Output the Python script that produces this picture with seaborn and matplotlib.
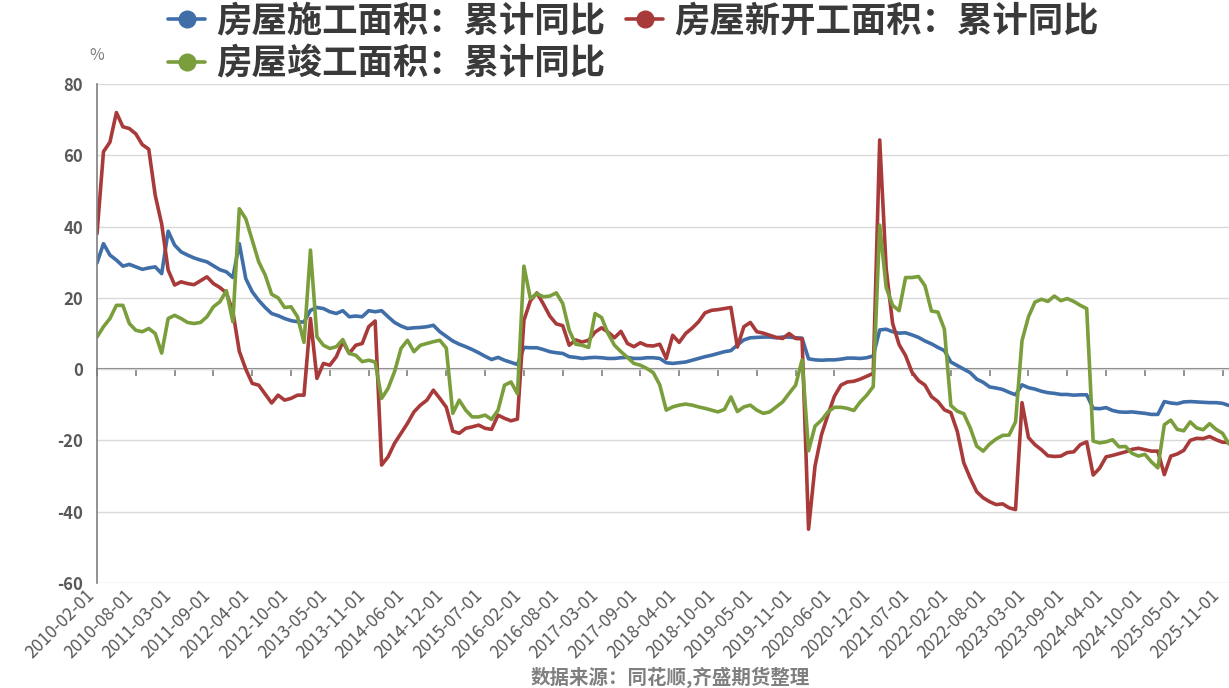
import pandas as pd
import matplotlib.pyplot as plt
import matplotlib.transforms as mtransforms
import seaborn as sns
from matplotlib.lines import Line2D

# 月份（国家统计局1-2月合并，无1月）
years = list(range(2010, 2026))
months = list(range(2, 13))
dates = [f'{y}-{m:02d}-01' for y in years for m in months]

# 房屋施工面积：累计同比
shigong = [
    29.8, 35.2, 32.0, 30.6, 28.9, 29.4, 28.7, 28.0, 28.4, 28.7, 26.8,
    38.7, 34.8, 32.9, 32.0, 31.2, 30.6, 30.1, 29.0, 27.9, 27.3, 25.7,
    35.2, 25.4, 21.7, 19.3, 17.3, 15.6, 15.0, 14.2, 13.6, 13.3, 13.2,
    16.5, 17.3, 17.0, 16.1, 15.6, 16.4, 14.7, 14.9, 14.7, 16.4, 16.1,
    16.4, 14.7, 13.1, 12.1, 11.4, 11.6, 11.7, 11.9, 12.3, 10.5, 9.2,
    7.9, 7.0, 6.3, 5.5, 4.6, 3.6, 2.7, 3.3, 2.5, 1.9, 1.3,
    6.1, 6.0, 6.0, 5.5, 4.9, 4.6, 4.4, 3.5, 3.3, 3.0, 3.2,
    3.3, 3.2, 3.0, 3.0, 3.2, 3.3, 3.0, 3.0, 3.2, 3.2, 3.0,
    1.8, 1.6, 1.8, 2.0, 2.5, 3.0, 3.5, 3.9, 4.4, 4.9, 5.2,
    6.8, 8.2, 8.8, 8.9, 9.0, 9.0, 8.8, 9.0, 9.0, 8.8, 8.7,
    2.9, 2.6, 2.5, 2.6, 2.6, 2.8, 3.1, 3.1, 3.0, 3.2, 3.7,
    11.0, 11.2, 10.5, 10.1, 10.2, 9.6, 8.9, 7.9, 7.1, 6.1, 5.2,
    2.0, 1.0, 0.0, -1.0, -2.8, -3.7, -5.0, -5.3, -5.7, -6.5, -7.2,
    -4.4, -5.2, -5.6, -6.2, -6.6, -6.8, -7.1, -7.1, -7.3, -7.2, -7.2,
    -11.0, -11.1, -10.8, -11.6, -12.0, -12.1, -12.0, -12.2, -12.4, -12.7, -12.7,
    -9.1, -9.5, -9.7, -9.2, -9.1, -9.2, -9.3, -9.4, -9.4, -9.6, -10.2,
]

# 房屋新开工面积：累计同比
xinkaigong = [
    38.0, 61.0, 63.7, 72.0, 68.0, 67.5, 66.0, 63.0, 61.7, 48.8, 40.7,
    27.8, 23.6, 24.5, 24.0, 23.7, 24.8, 25.9, 24.0, 22.9, 21.4, 16.2,
    5.0, 0.0, -4.0, -4.5, -7.0, -9.5, -7.3, -8.7, -8.2, -7.3, -7.3,
    14.2, -2.6, 1.6, 1.1, 3.5, 7.7, 4.4, 6.7, 7.2, 11.9, 13.5,
    -26.9, -24.6, -20.8, -18.0, -15.2, -12.0, -10.1, -8.7, -5.9, -8.2, -10.7,
    -17.4, -18.0, -16.6, -16.2, -15.7, -16.6, -16.9, -12.9, -13.8, -14.5, -14.0,
    13.7, 19.2, 21.4, 18.3, 14.9, 12.7, 12.2, 6.7, 8.2, 7.6, 8.1,
    10.4, 11.6, 10.4, 8.8, 10.6, 7.2, 6.3, 7.4, 6.6, 6.5, 7.0,
    3.0, 9.5, 7.5, 10.0, 11.5, 13.3, 15.8, 16.5, 16.7, 17.0, 17.3,
    6.2, 11.9, 13.1, 10.5, 10.1, 9.5, 8.9, 8.6, 10.0, 8.6, 8.5,
    -44.9, -27.2, -18.4, -12.8, -7.6, -4.5, -3.6, -3.4, -2.8, -2.0, -1.2,
    64.3, 28.2, 12.8, 6.9, 3.8, -0.9, -3.2, -4.5, -7.7, -9.1, -11.4,
    -12.2, -17.5, -26.3, -30.6, -34.4, -36.1, -37.2, -38.0, -37.8, -38.9, -39.4,
    -9.4, -19.2, -21.2, -22.6, -24.3, -24.5, -24.4, -23.4, -23.2, -21.2, -20.4,
    -29.7, -27.8, -24.6, -24.2, -23.7, -23.2, -22.5, -22.2, -22.6, -23.0, -23.0,
    -29.6, -24.4, -23.8, -22.8, -20.0, -19.4, -19.5, -18.9, -19.8, -20.5, -20.6,
]

# 房屋竣工面积：累计同比
jungong = [
    9.0, 11.9, 14.2, 17.9, 17.9, 12.8, 10.9, 10.5, 11.4, 10.0, 4.5,
    14.2, 15.1, 14.2, 13.1, 12.8, 13.1, 14.7, 17.5, 18.9, 22.0, 13.3,
    45.0, 42.2, 36.2, 30.1, 26.4, 21.0, 20.0, 17.3, 17.5, 14.7, 7.5,
    33.4, 9.1, 6.7, 5.8, 6.3, 8.3, 4.4, 3.9, 2.1, 2.5, 2.0,
    -8.2, -5.4, -0.7, 5.8, 8.1, 4.9, 6.7, 7.2, 7.7, 8.1, 5.9,
    -12.4, -8.7, -11.5, -13.4, -13.4, -12.9, -14.1, -11.5, -4.5, -3.6, -6.9,
    28.9, 19.8, 21.2, 20.3, 20.5, 21.4, 18.4, 10.9, 7.0, 6.7, 6.1,
    15.6, 14.5, 10.0, 6.7, 4.9, 3.3, 1.6, 1.1, 0.2, -1.0, -4.4,
    -11.5, -10.6, -10.1, -9.8, -10.1, -10.6, -11.0, -11.5, -12.0, -11.3, -7.8,
    -11.9, -10.6, -10.1, -11.5, -12.4, -12.0, -10.6, -9.2, -6.8, -4.5, 2.6,
    -22.9, -16.0, -14.3, -12.0, -10.7, -10.7, -11.0, -11.6, -9.2, -7.3, -4.9,
    40.4, 22.9, 17.9, 16.4, 25.7, 25.7, 26.0, 23.4, 16.3, 16.0, 11.2,
    -10.2, -11.8, -12.5, -16.5, -21.6, -23.0, -21.0, -19.6, -18.6, -18.5, -14.8,
    8.0, 14.7, 18.8, 19.6, 19.0, 20.5, 19.2, 19.8, 19.0, 17.9, 17.0,
    -20.2, -20.7, -20.4, -19.8, -21.8, -21.7, -23.6, -24.4, -23.9, -26.0, -27.7,
    -15.6, -14.3, -16.9, -17.3, -14.8, -16.5, -17.0, -15.3, -16.9, -18.0, -21.0,
]

names = ['房屋施工面积：累计同比', '房屋新开工面积：累计同比', '房屋竣工面积：累计同比']
colors = ['#3f6ea8', '#a83a3a', '#7b9e3c']

df = pd.DataFrame({'idx': range(len(dates)), names[0]: shigong,
                   names[1]: xinkaigong, names[2]: jungong})
long = df.melt(id_vars='idx', var_name='series', value_name='value')

sns.set_theme(style='white')
plt.rcParams['font.family'] = ['Noto Sans CJK SC', 'DejaVu Sans']
plt.rcParams['axes.unicode_minus'] = False

fig = plt.figure(figsize=(12.29, 6.88), dpi=100)
ax = fig.add_axes([97 / 1229, 1 - 583 / 688, 1 - 97 / 1229, (583 - 84) / 688])

sns.lineplot(data=long, x='idx', y='value', hue='series', hue_order=names,
             palette=dict(zip(names, colors)), linewidth=2.6, legend=False,
             estimator=None, ax=ax)

ax.set_xlim(0, len(dates) - 1)
ax.set_ylim(-60, 80)
ax.set_yticks(range(-60, 81, 20))
ax.set_xlabel('')
ax.set_ylabel('')

ax.yaxis.grid(True, color='#d9d9d9', linewidth=1)
ax.xaxis.grid(False)
for s in ['top', 'right', 'bottom']:
    ax.spines[s].set_visible(False)
ax.spines['left'].set_color('#7f7f7f')
ax.spines['left'].set_linewidth(1.2)

tick_pos = list(range(0, len(dates), 6))
ax.set_xticks(tick_pos)
ax.set_xticklabels([dates[i] for i in tick_pos], rotation=45, ha='right',
                   rotation_mode='anchor', fontsize=12.5, color='#595959')
ax.tick_params(axis='x', length=0, pad=4)
shift = mtransforms.ScaledTranslation(-12 / 100, 2 / 100, fig.dpi_scale_trans)
for t in ax.get_xticklabels():
    t.set_transform(t.get_transform() + shift)
ax.tick_params(axis='y', length=0, pad=10, labelsize=12, labelcolor='#595959')
for t in ax.get_yticklabels():
    t.set_fontweight('bold')

# 零轴（带刻度）
zero = ax.secondary_xaxis(60 / 140)
zero.set_xticks(tick_pos)
zero.set_xticklabels([''] * len(tick_pos))
zero.tick_params(axis='x', direction='out', length=5, width=1.2, color='#7f7f7f')
zero.spines['bottom'].set_color('#7f7f7f')
zero.spines['bottom'].set_linewidth(1.5)
for s in ['top', 'left', 'right']:
    zero.spines[s].set_visible(False)

fig.text(97 / 1229, 1 - 55 / 688, '%', ha='center', va='center',
         fontsize=11.5, color='#7f7f7f')

handles = [Line2D([0], [0], color=c, lw=2.6, marker='o', markersize=12)
           for c in colors]
order = [0, 2, 1]
leg = fig.legend([handles[i] for i in order], [names[i] for i in order],
                 ncol=2, loc='upper left', bbox_to_anchor=(168 / 1229, 1 - 3 / 688),
                 frameon=False, borderpad=0, borderaxespad=0,
                 handlelength=1.05, handletextpad=0.3, columnspacing=0.6,
                 labelspacing=0.25, prop={'size': 25.5, 'weight': 'bold'})
for t in leg.get_texts():
    t.set_color('#3a3a3a')

fig.text(670 / 1229, 1 - 677 / 688, '数据来源：同花顺,齐盛期货整理',
         ha='center', va='center', fontsize=14, color='#7f7f7f', fontweight='bold')

fig.savefig('out.png', dpi=100)
